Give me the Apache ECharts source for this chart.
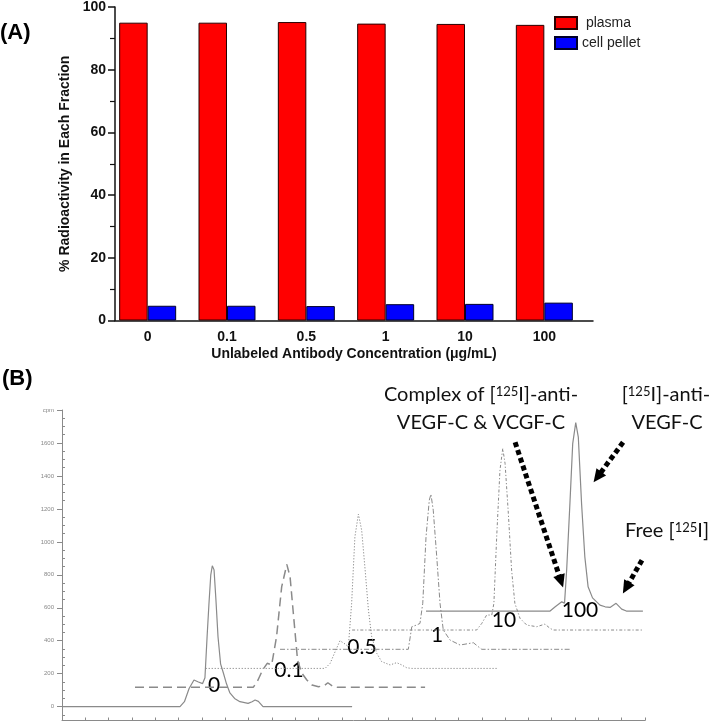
<!DOCTYPE html>
<html><head><meta charset="utf-8">
<script src="https://cdn.jsdelivr.net/npm/echarts@6/dist/echarts.min.js"></script>
<style>html,body{margin:0;padding:0;background:#fff}#c{width:709px;height:724px}</style>
</head><body><div id="c"></div><script>
// ---------- Panel A data ----------
const categories = ['0', '0.1', '0.5', '1', '10', '100'];
const plasma = [95.0, 95.0, 95.2, 94.7, 94.6, 94.3];
const cellPellet = [4.7, 4.7, 4.6, 5.2, 5.3, 5.7];

// ---------- Panel B data (x: arbitrary axis units 0-25, y: cpm) ----------
const trace0 = [[0,0],[5.06,0],[5.25,30],[5.45,110],[5.66,162],[5.85,150],[6.03,140],[6.13,175],[6.22,420],[6.3,620],[6.38,800],[6.445,855],[6.52,830],[6.6,650],[6.69,424],[6.8,260],[6.92,204],[7.05,140],[7.2,83],[7.4,50],[7.63,30],[7.98,20],[8.15,30],[8.28,40],[8.42,32],[8.62,0],[12.44,0]];
const trace01 = [[3.13,117],[8.2,117],[8.4,160],[8.6,222],[8.8,263],[8.99,253],[9.2,424],[9.42,727],[9.64,863],[9.78,788],[9.92,567],[10.1,283],[10.28,204],[10.5,162],[10.72,131],[11.0,121],[11.25,128],[11.4,145],[11.64,121],[11.8,117],[15.57,117]];
const trace05 = [[6.16,232],[11.28,232],[11.5,263],[11.71,333],[11.92,400],[12.14,380],[12.28,364],[12.42,627],[12.56,1030],[12.71,1168],[12.85,1071],[13.0,828],[13.14,586],[13.28,424],[13.5,323],[13.71,273],[14.07,253],[14.35,267],[14.57,253],[14.78,236],[15.0,232],[18.64,232]];
const trace1 = [[9.35,348],[14.85,348],[15.0,485],[15.2,495],[15.35,505],[15.47,627],[15.61,1030],[15.75,1253],[15.82,1289],[15.92,1192],[16.07,909],[16.21,627],[16.35,465],[16.64,404],[17.07,374],[17.64,388],[17.85,364],[18.0,348],[21.78,348]];
const trace10 = [[12.44,465],[17.78,465],[18.0,505],[18.21,556],[18.43,556],[18.52,627],[18.64,1030],[18.78,1434],[18.9,1566],[19.0,1475],[19.14,1172],[19.28,828],[19.42,627],[19.64,536],[19.93,495],[20.36,485],[20.71,501],[20.93,475],[21.07,465],[24.91,465]];
const trace100 = [[15.61,580],[20.93,580],[21.15,606],[21.43,636],[21.55,628],[21.64,828],[21.78,1232],[21.9,1596],[22.03,1723],[22.14,1636],[22.28,1232],[22.42,909],[22.56,727],[22.75,660],[23.07,616],[23.29,606],[23.5,602],[23.76,627],[24.0,592],[24.2,580],[24.91,580]];
const traceNames = ['0', '0.1', '0.5', '1', '10', '100'];
const yLabelsB = [0, 200, 400, 600, 800, 1000, 1200, 1400, 1600, 1800];
const yMinorB = [-50, 50, 100, 150, 250, 300, 350, 450, 500, 550, 650, 700, 750, 850, 900, 950, 1050, 1100, 1150, 1250, 1300, 1350, 1450, 1500, 1550, 1650, 1700, 1750];
// arrow annotations: [start, end] in panel-B data units
const arrows = [
  [[19.43, 1604], [21.40, 761]],
  [[24.06, 1604], [22.96, 1393]],
  [[24.87, 889], [24.19, 721]]
];

const chart = echarts.init(document.getElementById('c'), null, {renderer: 'canvas'});
const AF = 'Liberation Sans, Arial, sans-serif';
const BF = 'Lato, Open Sans, sans-serif';
const gray = '#8a8a8a';

const traceStyles = [
  {type: 'solid', width: 1.2},
  {type: [9, 5], width: 1.5},
  {type: [1.2, 1.8], width: 1},
  {type: [5, 2, 1.5, 2], width: 1},
  {type: [3, 2, 1.2, 2], width: 1},
  {type: 'solid', width: 1.2}
];
const traces = [trace0, trace01, trace05, trace1, trace10, trace100];

const lineSeries = traces.map((d, i) => ({
  type: 'line', name: 'trace ' + traceNames[i], xAxisIndex: 2, yAxisIndex: 2,
  data: d, showSymbol: false, symbol: 'none', silent: true,
  lineStyle: Object.assign({color: gray}, traceStyles[i]),
  z: 3,
  markLine: i === 5 ? {
    silent: true, symbol: ['none', 'triangle'], symbolSize: [12, 13],
    label: {show: false},
    lineStyle: {color: '#000', width: 5, type: [5, 3.2], cap: 'butt'},
    itemStyle: {color: '#000'},
    emphasis: {disabled: true},
    data: arrows.map(a => [{coord: a[0]}, {coord: a[1]}])
  } : undefined
}));

const bigLabel = {fontSize: 21, fontFamily: BF, fill: '#000'};
const labelPos = [[214, 685], [289, 670], [362, 647], [437, 635], [504, 620], [580, 610]];
const graphics = [
  {type: 'text', x: 0, y: 33, style: {text: '(A)', font: 'bold 22px ' + AF, fill: '#000', verticalAlign: 'middle'}},
  {type: 'text', x: 2, y: 379, style: {text: '(B)', font: 'bold 22px ' + AF, fill: '#000', verticalAlign: 'middle'}}
];
traceNames.forEach((n, i) => graphics.push({type: 'text', x: labelPos[i][0], y: labelPos[i][1],
  style: Object.assign({text: n, align: 'center', verticalAlign: 'middle'}, bigLabel)}));
const rich = {
  n: {fontSize: 20, fontFamily: BF, fill: '#111', color: '#111'},
  s: {fontSize: 13, fontFamily: BF, fill: '#111', color: '#111', verticalAlign: 'top', lineHeight: 13}
};
function ann(x, y, text) {
  graphics.push({type: 'text', x: x, y: y, style: {text: text, rich: rich, align: 'center', verticalAlign: 'middle'}});
}
ann(481, 395, '{n|Complex of [}{s|125}{n|I]-anti-}');
ann(481, 423, '{n|VEGF-C & VCGF-C}');
ann(666, 395, '{n|[}{s|125}{n|I]-anti-}');
ann(667, 423, '{n|VEGF-C}');
ann(667, 531, '{n|Free [}{s|125}{n|I]}');

const option = {
  animation: false,
  backgroundColor: '#fff',
  grid: [
    {left: 108, top: 7, width: 476, height: 313.5},
    {left: 115, top: 7, width: 478, height: 313.5},
    {left: 62, top: 410, width: 583, height: 310.5}
  ],
  legend: {
    data: ['plasma', 'cell pellet'], orient: 'vertical', left: 549, top: 11,
    itemWidth: 22, itemHeight: 12, itemGap: 6, icon: 'rect',
    formatter: n => n === 'plasma' ? ' plasma' : n,
    textStyle: {fontSize: 14, fontFamily: AF, color: '#222'},
    selectedMode: false
  },
  xAxis: [
    {gridIndex: 0, type: 'category', data: categories,
     axisLine: {show: false}, axisTick: {show: false},
     axisLabel: {fontSize: 14, fontWeight: 'bold', fontFamily: AF, color: '#111', margin: 10}},
    {gridIndex: 1, type: 'value', min: 0, max: 1,
     axisLine: {show: true, lineStyle: {color: '#111', width: 1.5}},
     axisTick: {show: false}, axisLabel: {show: false}, splitLine: {show: false},
     name: 'Unlabeled Antibody Concentration (\u03bcg/mL)', nameLocation: 'middle', nameGap: 27,
     nameTextStyle: {fontSize: 14, fontWeight: 'bold', fontFamily: AF, color: '#111'}},
    {gridIndex: 2, type: 'value', min: 0, max: 25, interval: 1,
     axisLine: {show: true, onZero: false, lineStyle: {color: gray, width: 1}},
     axisTick: {show: true, inside: true, length: 3, lineStyle: {color: gray}},
     axisLabel: {show: false}, splitLine: {show: false}}
  ],
  yAxis: [
    {gridIndex: 0, type: 'value', min: 0, max: 100, show: false, splitLine: {show: false}},
    {gridIndex: 1, type: 'value', min: 0, max: 100, interval: 20,
     axisLine: {show: true, lineStyle: {color: '#111', width: 1.5}},
     axisTick: {show: true, length: 7, lineStyle: {color: '#111', width: 1.5}},
     minorTick: {show: true, splitNumber: 2, length: 5, lineStyle: {color: '#111', width: 1.2}},
     axisLabel: {fontSize: 14, fontWeight: 'bold', fontFamily: AF, color: '#111', margin: 9},
     splitLine: {show: false},
     name: '% Radioactivity in Each Fraction', nameLocation: 'middle', nameGap: 38,
     nameTextStyle: {fontSize: 14, fontWeight: 'bold', fontFamily: AF, color: '#111'}},
    {gridIndex: 2, type: 'value', min: -84, max: 1800,
     axisLine: {show: true, onZero: false, lineStyle: {color: gray, width: 1}},
     axisTick: {show: true, length: 5, customValues: yLabelsB, lineStyle: {color: gray}},
     axisLabel: {show: true, customValues: yLabelsB, fontSize: 6, color: '#888', fontFamily: AF, margin: 8,
       formatter: v => v === 1800 ? 'cpm' : String(v)},
     splitLine: {show: false}},
    {gridIndex: 2, type: 'value', min: -84, max: 1800,
     axisLine: {show: false},
     axisTick: {show: true, length: 3, customValues: yMinorB, lineStyle: {color: gray}},
     axisLabel: {show: false}, splitLine: {show: false}}
  ],
  series: [
    {type: 'bar', name: 'plasma', xAxisIndex: 0, yAxisIndex: 0, data: plasma,
     barWidth: 28.5, barGap: '0%',
     itemStyle: {color: '#ff0000', borderColor: '#2a0000', borderWidth: 1}},
    {type: 'bar', name: 'cell pellet', xAxisIndex: 0, yAxisIndex: 0, data: cellPellet,
     barWidth: 28.5, barGap: '0%',
     itemStyle: {color: '#0000ff', borderColor: '#00002a', borderWidth: 1}}
  ].concat(lineSeries),
  graphic: graphics
};
chart.setOption(option);
</script></body></html>
